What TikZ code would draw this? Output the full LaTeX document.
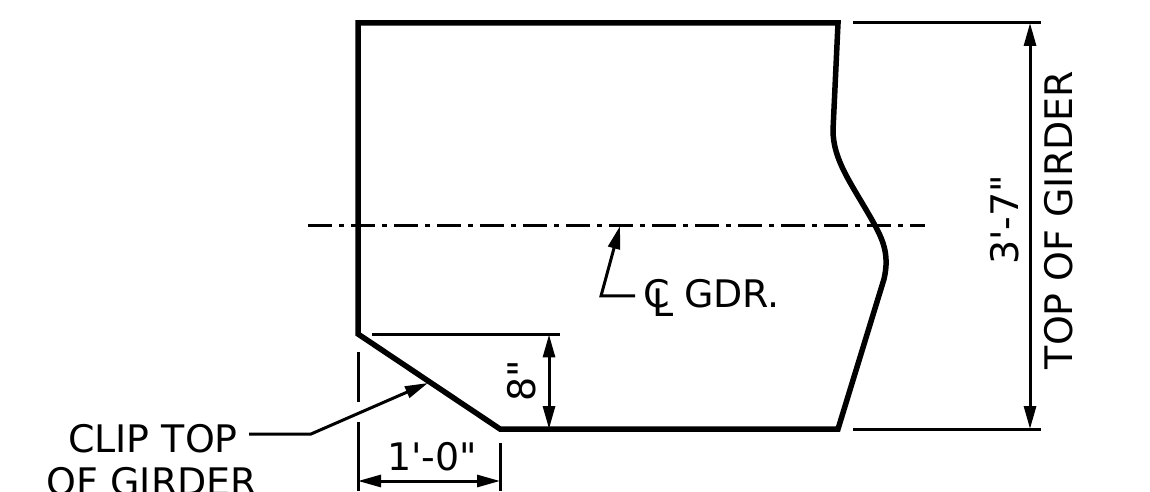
\documentclass[tikz,border=0pt]{standalone}
\usepackage{fontspec}
\usetikzlibrary{arrows.meta}
\newfontfamily\girderfont{DejaVu Sans}
\tikzset{
    dimtext/.style={font=\girderfont\fontsize{10.8pt}{13pt}\selectfont, inner sep=0pt, anchor=base},
    dimline/.style={line width=0.03cm},
    dimarrow/.style={line width=0.03cm, {Triangle[length=0.23cm,width=0.12cm]}-{Triangle[length=0.23cm,width=0.12cm]}},
    leader/.style={line width=0.03cm, -{Triangle[length=0.23cm,width=0.12cm]}}
}

\begin{document}
\begin{tikzpicture}[scale=1.0]
        \useasboundingbox (0,0) rectangle (11.5,4.91);
        \clip (0,0) rectangle (11.5,4.91);

        % Girder
        \begin{scope}
            \draw [line width=0.055cm] (3.58,1.57) -- (3.58,4.68) -- (8.38,4.68) -- (8.33,3.61)
                .. controls (8.33,3.31) and (8.51,3.08) .. (8.72,2.71)
                .. controls (8.82,2.53) and (8.90,2.38) .. (8.84,2.12)
                -- (8.38,0.62) -- (5.00,0.62) -- cycle;
        \end{scope}

        % Centre line
        \begin{scope}
            \draw [dimline, dash pattern=on 0.24cm off 0.07cm on 0.05cm off 0.07cm] (3.08,2.65) -- (9.25,2.65);
            \coordinate (gdrtip) at (6.20,2.65);
            \coordinate (gdrbend) at (6.01,1.95);
            \coordinate (gdrfoot) at (6.35,1.95);
            \draw [leader] (gdrfoot) -- (gdrbend) -- (gdrtip);
            \node [dimtext] (gdrc) at (6.57,1.83) {C};
            \node [dimtext] (gdrl) at (6.63,1.74) {L};
            \node [dimtext] (gdrname) at (7.32,1.83) {GDR.};
        \end{scope}

        % Clip
        \begin{scope}
            \draw [dimline] (3.72,1.565) -- (5.60,1.565);
            \draw [dimline] (3.58,1.39) -- (3.58,0.89);
            \draw [dimline] (3.58,0.69) -- (3.58,0.00);
            \draw [dimline] (5.00,0.48) -- (5.00,0.00);

            \coordinate (clipa) at (5.49,1.565);
            \coordinate (clipb) at (5.49,0.62);
            \draw [dimarrow] (clipa) -- (clipb);
            \node [dimtext, rotate=90] (cliph) at (5.35,1.10) {8"};

            \coordinate (lena) at (3.58,0.10);
            \coordinate (lenb) at (5.00,0.10);
            \draw [dimarrow] (lena) -- (lenb);
            \node [dimtext] (lenw) at (4.32,0.21) {1'-0"};

            \node [dimtext] (clipone) at (1.53,0.39) {CLIP TOP};
            \node [dimtext] (cliptwo) at (1.52,-0.04) {OF GIRDER};
            \coordinate (clipbend) at (3.11,0.57);
            \coordinate (cliptip) at (4.28,1.08);
            \coordinate (clipfoot) at (2.49,0.57);
            \draw [leader] (clipfoot) -- (clipbend) -- (cliptip);
        \end{scope}

        % Depth
        \begin{scope}
            \draw [dimline] (8.53,4.68) -- (10.41,4.68);
            \draw [dimline] (8.53,0.62) -- (10.41,0.62);
            \coordinate (deptha) at (10.30,4.68);
            \coordinate (depthb) at (10.30,0.62);
            \draw [dimarrow] (deptha) -- (depthb);
            \node [dimtext, rotate=90] (depthval) at (10.18,2.71) {3'-7"};
            \node [dimtext, rotate=90] (depthname) at (10.72,2.71) {TOP OF GIRDER};
        \end{scope}
\end{tikzpicture}
\end{document}
